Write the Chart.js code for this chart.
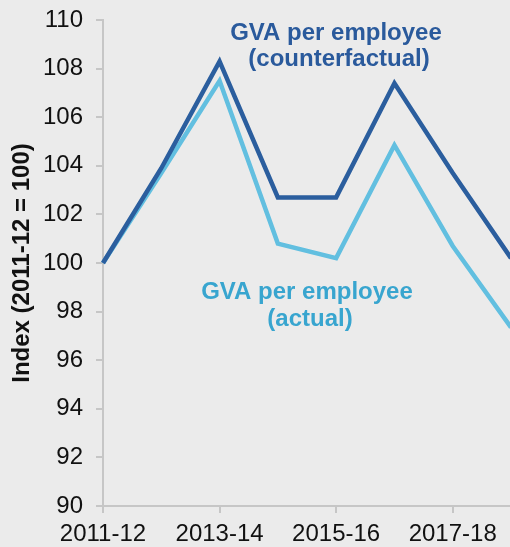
<!DOCTYPE html>
<html>
<head>
<meta charset="utf-8">
<script src="https://cdn.jsdelivr.net/npm/chart.js@4/dist/chart.umd.min.js"></script>
<style>
  html, body { margin: 0; padding: 0; background: #ebebeb; overflow: hidden; }
  canvas { display: block; background: #ebebeb; }
</style>
</head>
<body>
<canvas id="myChart" width="520" height="547"></canvas>
<script>
const years = ['2011-12', '2012-13', '2013-14', '2014-15', '2015-16', '2016-17', '2017-18', '2018-19'];
const counterfactual = [100, 103.9, 108.3, 102.7, 102.7, 107.4, 103.7, 100.2];
const actual = [100, 103.7, 107.5, 100.8, 100.2, 104.85, 100.7, 97.35];
const yTicks = [90, 92, 94, 96, 98, 100, 102, 104, 106, 108, 110];

const FONT = "'Liberation Sans', Arial, sans-serif";
const DARK = '#2b5e9e';
const LIGHT = '#62bfe0';

// text labels next to the lines
const lineLabels = {
  id: 'lineLabels',
  afterDatasetsDraw(chart) {
    const c = chart.ctx;
    c.save();
    c.font = 'bold 24px ' + FONT;
    c.textAlign = 'center';
    c.textBaseline = 'alphabetic';
    c.fillStyle = '#2a5a9c';
    c.fillText('GVA per employee', 336, 40);
    c.fillText('(counterfactual)', 339, 66);
    c.fillStyle = '#38a5cf';
    c.fillText('GVA per employee', 307, 299);
    c.fillText('(actual)', 310, 326);
    c.restore();
  }
};

const ctx = document.getElementById('myChart');
const myChart = new Chart(ctx, {
  type: 'line',
  data: {
    labels: years,
    datasets: [{
      label: 'GVA per employee (counterfactual)',
      data: counterfactual,
      borderColor: DARK,
      borderWidth: 4.5,
      borderJoinStyle: 'miter',
      pointRadius: 0,
      tension: 0,
    }, {
      label: 'GVA per employee (actual)',
      data: actual,
      borderColor: LIGHT,
      borderWidth: 4.5,
      borderJoinStyle: 'miter',
      pointRadius: 0,
      tension: 0,
    }],
  },
  options: {
    responsive: false,
    animation: false,
    layout: {
      padding: { top: 20, right: 9, left: 0, bottom: 0 },
    },
    plugins: {
      legend: { display: false },
      tooltip: { enabled: false },
    },
    scales: {
      x: {
        offset: false,
        afterFit(scale) {
          scale.height = 41;
          scale.paddingLeft = 0;
          scale.paddingRight = 0;
        },
        border: { color: '#c6c6c6', width: 2 },
        grid: {
          drawOnChartArea: false,
          color: '#c6c6c6',
          lineWidth: 2,
          tickLength: 7,
        },
        ticks: {
          autoSkip: false,
          maxRotation: 0,
          padding: 7,
          color: '#111',
          font: { family: FONT, size: 24 },
          callback: (v, i) => (i % 2 === 0 ? years[i] : null),
        },
      },
      y: {
        min: 90,
        max: 110,
        afterFit(scale) {
          scale.width = 103;
          scale.paddingTop = 0;
          scale.paddingBottom = 0;
        },
        afterBuildTicks(scale) { scale.ticks = yTicks.map(v => ({ value: v })); },
        border: { color: '#c6c6c6', width: 2 },
        grid: {
          drawOnChartArea: false,
          color: '#c6c6c6',
          lineWidth: 2,
          tickLength: 7,
        },
        ticks: {
          padding: 13,
          color: '#111',
          font: { family: FONT, size: 24 },
        },
        title: {
          display: true,
          text: 'Index (2011-12 = 100)',
          color: '#111',
          font: { family: FONT, size: 24, weight: 'bold' },
          padding: { top: 8, bottom: 0 },
        },
      },
    },
  },
  plugins: [lineLabels],
});
</script>
</body>
</html>
